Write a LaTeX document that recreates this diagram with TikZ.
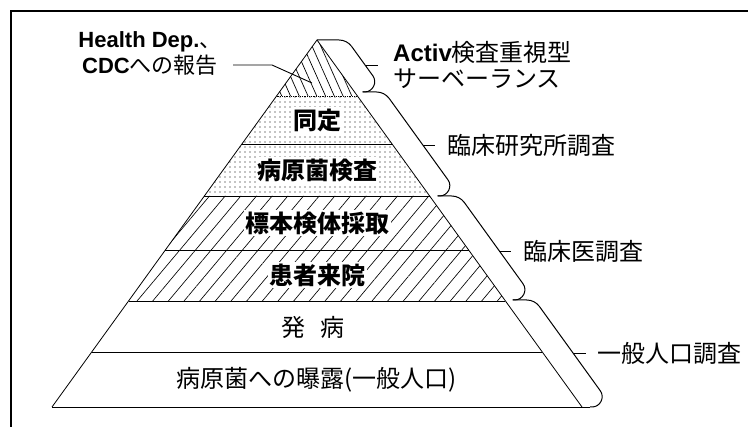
\documentclass[tikz,border=0pt]{standalone}
\usepackage{fontspec}
\setmainfont{Noto Sans CJK JP}
\newfontfamily\latf{Liberation Sans}
\usetikzlibrary{patterns.meta}
\begin{document}
\begin{tikzpicture}[x=1pt,y=-1pt,
  declare function={xr(\v)=317+0.7221*(\v-40); xl(\v)=317-0.7221*(\v-40);},
  ptxt/.style={fill=white,inner sep=1.5pt,font=\fontsize{24}{26}\selectfont},
  ptxtb/.style={fill=white,inner sep=1.5pt,font=\fontsize{24}{26}\selectfont\bfseries},
  rlbl/.style={anchor=west,inner sep=0pt,font=\fontsize{24}{26}\selectfont},
  lyr/.style={line width=0.8pt},
  brk/.style={line width=1pt,line join=round},
  frameline/.style={line width=2.6pt},
  tick/.style={line width=0.9pt},
]
\useasboundingbox (0,0) rectangle (748,427);
% frame
\draw[frameline] (11,427) -- (11,11) -- (748,11);

\coordinate (A) at (317,40);
\coordinate (BL) at (52,407);
\coordinate (BR) at (582,407);

% fills
\fill[pattern={Lines[angle=-66,distance=8pt,line width=0.7pt]}] (A) -- ({xl(96)},96) -- ({xr(96)},96) -- cycle;
\fill[pattern={Dots[distance=5pt,radius=0.6pt]}] ({xl(96)},96) -- ({xr(96)},96) -- ({xr(196)},196) -- ({xl(196)},196) -- cycle;
\fill[pattern={Lines[angle=50,distance=12pt,line width=0.65pt]}] ({xl(196)},196) -- ({xr(196)},196) -- ({xr(301)},301) -- ({xl(301)},301) -- cycle;

% pyramid outline and layers
\draw[lyr] (BL) -- (A) -- (BR);
\draw[lyr,densely dotted] ({xl(96)},96) -- ({xr(96)},96);
\foreach \yy in {144,196,250,301,352} {
  \draw[lyr] ({xl(\yy)},\yy) -- ({xr(\yy)},\yy);
}
\draw[lyr] (BL) -- (590,407);

% brackets
\foreach \yt/\yb/\xs in {40/92/317, 92/196/362.5, 196/300/437.6, 300/407/512.7} {
  \draw[brk] (\xs,\yt) -- ({xr(\yt)+22},\yt)
     .. controls ({xr(\yt)+27},\yt) and ({xr(\yt)+30+3*0.5854},{\yt+3*0.8107}) .. ({xr(\yt)+30+8*0.5854},{\yt+8*0.8107})
     -- ({xr(\yb)+30-20*0.5854},{\yb-20*0.8107})
     .. controls ({xr(\yb)+30-11.8*0.5854},{\yb-11.8*0.8107}) and ({xr(\yb)+18.2},\yb) .. ({xr(\yb)+10},\yb)
     -- ({xr(\yb)+8},\yb);
}

% pyramid texts
\node[ptxtb] (t1) at (317,120) {同定};
\node[ptxtb] (t2) at (317,170) {病原菌検査};
\node[ptxtb] (t3) at (317,223) {標本検体採取};
\node[ptxtb] (t4) at (317,275) {患者来院};
\node[ptxt] (t5) at (313,327) {発\hspace{0.6em}病};
\node[ptxt] (t6) at (317,380) {病原菌への曝露(一般人口)};

% right labels
\node[rlbl,align=left] (l1) at (393,65) {{\latf\bfseries Activ}検査重視型\\サーベーランス};
\node[rlbl] (l2) at (447,145) {臨床研究所調査};
\node[rlbl] (l3) at (523,251) {臨床医調査};
\node[rlbl] (l4) at (597,353) {一般人口調査};

\coordinate (k1a) at ({xr(65)+30},65);  \coordinate (k1b) at (378,65);
\coordinate (k2a) at ({xr(145)+30},145); \coordinate (k2b) at (435,145);
\coordinate (k3a) at ({xr(251)+30},251); \coordinate (k3b) at (511,251);
\coordinate (k4a) at ({xr(353)+30},353); \coordinate (k4b) at (586,353);
\draw[tick] (k1a) -- (k1b);
\draw[tick] (k2a) -- (k2b);
\draw[tick] (k3a) -- (k3b);
\draw[tick] (k4a) -- (k4b);

% left label
\node[inner sep=0pt,font=\fontsize{22}{24}\selectfont] (h1) at (150,42) {{\latf\bfseries Health Dep.}、};
\node[inner sep=0pt,font=\fontsize{22}{24}\selectfont] (h2) at (150,65) {{\latf\bfseries CDC}への報告};
\coordinate (c1) at (233,65);
\coordinate (c2) at (272,65);
\coordinate (c3) at (312,83);
\draw[tick] (c1) -- (c2) -- (c3);
\end{tikzpicture}
\end{document}
